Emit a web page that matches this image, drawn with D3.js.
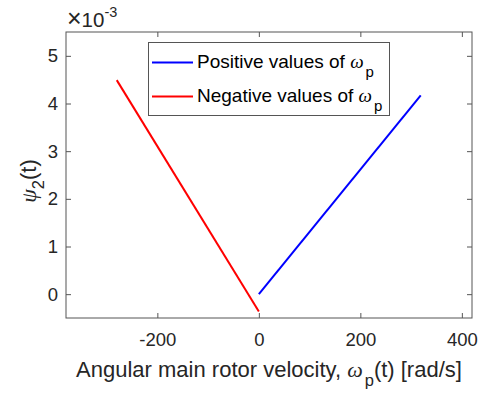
<!DOCTYPE html>
<html>
<head>
<meta charset="utf-8">
<script src="https://cdn.jsdelivr.net/npm/d3@7"></script>
<style>
  body { margin: 0; background: #fff; }
  svg text { font-family: "Liberation Sans", Arial, sans-serif; fill: #262626; }
  .sym { font-family: "Liberation Serif", "DejaVu Serif", serif; font-style: italic; }
</style>
</head>
<body>
<svg width="484" height="395"></svg>
<script>
// data (y values in units of 1e-3)
var posX = [0, 319];
var posY = [0, 4.17];
var negX = [-280, 0];
var negY = [4.49, -0.365];
var xTicks = [-200, 0, 200, 400];
var yTicks = [0, 1, 2, 3, 4, 5];

var pArea = [66, 32, 472, 318];

var xScale = d3.scaleLinear().domain([-380, 420]).range([pArea[0], pArea[2]]);
var yScale = d3.scaleLinear().domain([-0.5, 5.5]).range([pArea[3], pArea[1]]);

var svg = d3.select("svg");
var g = svg.append("g");
var axisColor = "#555";

// frame
g.append("rect")
  .attr("x", pArea[0]).attr("y", pArea[1])
  .attr("width", pArea[2] - pArea[0]).attr("height", pArea[3] - pArea[1])
  .attr("fill", "none").attr("stroke", axisColor).attr("stroke-width", 1);

// axes with inward ticks
function styleAxis(sel) {
  sel.attr("font-size", null).attr("font-family", null);
  sel.select(".domain").remove();
  sel.selectAll(".tick line").attr("stroke", axisColor);
  sel.selectAll(".tick text").attr("fill", "#262626").style("font-size", "18.5px");
}

g.append("g")
  .attr("transform", `translate(0, ${pArea[3]})`)
  .call(d3.axisBottom(xScale).tickValues(xTicks).tickSizeInner(-5).tickPadding(15).tickFormat(d => String(d)))
  .call(styleAxis);

g.append("g")
  .attr("transform", `translate(0, ${pArea[1]})`)
  .call(d3.axisTop(xScale).tickValues(xTicks).tickSizeInner(-5).tickFormat(""))
  .call(styleAxis);

g.append("g")
  .attr("transform", `translate(${pArea[0]}, 0)`)
  .call(d3.axisLeft(yScale).tickValues(yTicks).tickSizeInner(-5).tickPadding(8).tickFormat(d => String(d)))
  .call(styleAxis);

g.append("g")
  .attr("transform", `translate(${pArea[2]}, 0)`)
  .call(d3.axisRight(yScale).tickValues(yTicks).tickSizeInner(-5).tickFormat(""))
  .call(styleAxis);

// exponent label
var ex = g.append("text").attr("x", pArea[0] + 1).attr("y", 26.5).style("font-size", "20.5px");
ex.append("tspan").style("font-size", "25px").text("\u00d7");
ex.append("tspan").text("10");
ex.append("tspan").attr("dy", -10).style("font-size", "14.5px").text("-3");

// lines
var line = d3.line()
  .x(d => xScale(d[0]))
  .y(d => yScale(d[1]));

g.append("path")
  .datum(posX.map((x, i) => [x, posY[i]]))
  .attr("d", line).attr("fill", "none")
  .attr("stroke", "#0000ff").attr("stroke-width", 2);

g.append("path")
  .datum(negX.map((x, i) => [x, negY[i]]))
  .attr("d", line).attr("fill", "none")
  .attr("stroke", "#ff0000").attr("stroke-width", 2);

// legend
var leg = g.append("g");
leg.append("rect")
  .attr("x", 148.5).attr("y", 42.5).attr("width", 241).attr("height", 73)
  .attr("fill", "#fff").attr("stroke", axisColor).attr("stroke-width", 1);

var items = [["Positive values of ", "#0000ff", 62.5], ["Negative values of ", "#ff0000", 96.5]];
items.forEach(it => {
  leg.append("line")
    .attr("x1", 152).attr("x2", 193).attr("y1", it[2]).attr("y2", it[2])
    .attr("stroke", it[1]).attr("stroke-width", 2);
  var t = leg.append("text").attr("x", 197).attr("y", it[2] + 5).style("font-size", "19px");
  t.append("tspan").style("fill", "#000").text(it[0]);
  t.append("tspan").attr("class", "sym").style("fill", "#000").style("font-size", "19px").text("\u03c9");
  t.append("tspan").attr("dx", 2).attr("dy", 9).style("fill", "#000").style("font-size", "15px").text("p");
});

// x label
var xl = g.append("text")
  .attr("x", (pArea[0] + pArea[2]) / 2).attr("y", 377)
  .attr("text-anchor", "middle").style("font-size", "22px");
xl.append("tspan").text("Angular main rotor velocity, ");
xl.append("tspan").attr("class", "sym").text("\u03c9");
xl.append("tspan").attr("dx", 2).attr("dy", 9).style("font-size", "16.5px").text("p");
xl.append("tspan").attr("dy", -9).text("(t) [rad/s]");

// y label
var yl = g.append("text")
  .attr("transform", `translate(36, 181) rotate(-90)`)
  .attr("text-anchor", "middle").style("font-size", "22px");
yl.append("tspan").attr("class", "sym").text("\u03c8");
yl.append("tspan").attr("dy", 8).style("font-size", "16.5px").text("2");
yl.append("tspan").attr("dy", -8).text("(t)");
</script>
</body>
</html>
